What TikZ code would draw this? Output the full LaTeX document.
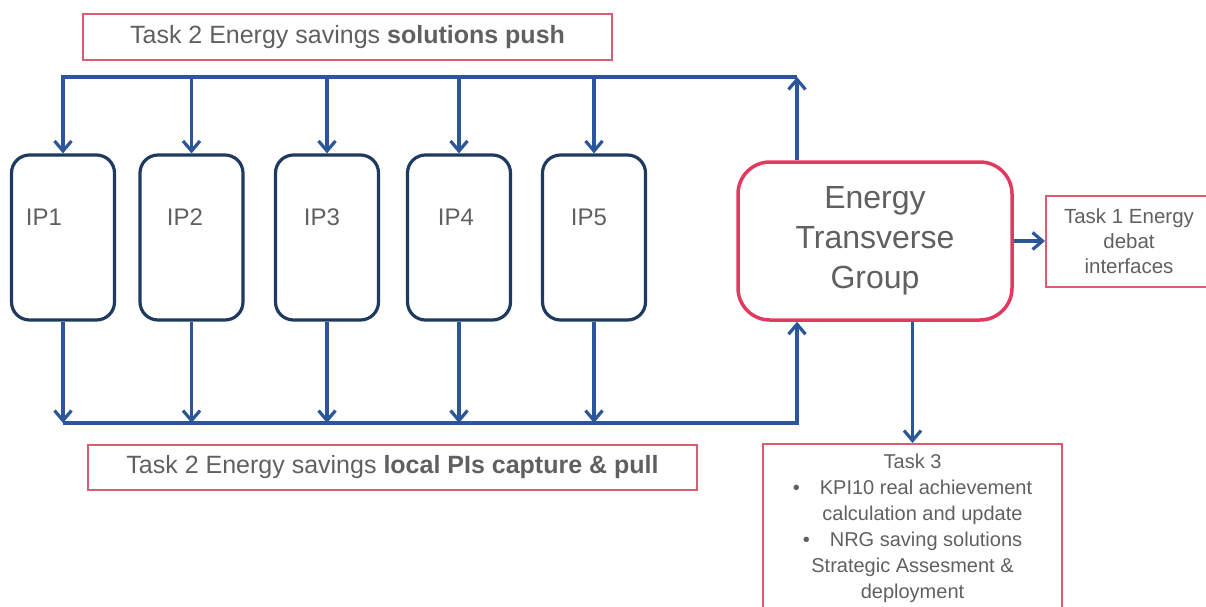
\documentclass[tikz,border=0pt]{standalone}
\usepackage{fontspec}
\setmainfont{Liberation Sans}
\usepackage{tikz}
\usetikzlibrary{arrows.meta,positioning,calc}
\definecolor{energyBlue}{HTML}{2B579A}
\definecolor{energyNavy}{HTML}{1F3A5F}
\definecolor{energyRed}{HTML}{E2395E}
\definecolor{energyPink}{HTML}{DC5A72}
\definecolor{energyGray}{HTML}{606060}
\tikzset{
  ipbox/.style={
    rectangle,
    rounded corners=18pt,
    draw=energyNavy,
    line width=3.2pt,
    minimum width=103pt,
    minimum height=165pt
  },
  iplabel/.style={
    text=energyGray,
    font=\fontsize{24}{28}\selectfont
  },
  groupbox/.style={
    rectangle,
    rounded corners=32pt,
    draw=energyRed,
    line width=3.5pt,
    minimum width=274pt,
    minimum height=158pt,
    align=center,
    text=energyGray,
    font=\fontsize{32}{40}\selectfont
  },
  taskbox/.style={
    rectangle,
    draw=energyPink,
    line width=2pt,
    align=center,
    text=energyGray
  },
  arrow/.style={
    -{Straight Barb[length=10pt,width=17pt]},
    line width=3.2pt,
    draw=energyBlue
  }
}
\begin{document}
\begin{tikzpicture}[x=1pt,y=-1pt]
  \useasboundingbox (0,0) rectangle (1206,607);
  \clip (0,0) rectangle (1206,607);
  % the five IP boxes
  \node[ipbox] (ip1) at (63,237.5) {};
  \node[ipbox] (ip2) at (191.5,237.5) {};
  \node[ipbox] (ip3) at (327,237.5) {};
  \node[ipbox] (ip4) at (459,237.5) {};
  \node[ipbox] (ip5) at (594,237.5) {};
  \node[iplabel] (ip1lbl) at (44,217) {IP1};
  \node[iplabel] (ip2lbl) at (185,217) {IP2};
  \node[iplabel] (ip3lbl) at (322,217) {IP3};
  \node[iplabel] (ip4lbl) at (456,217) {IP4};
  \node[iplabel] (ip5lbl) at (589,217) {IP5};
  % group and tasks
  \node[groupbox] (etg) at (875,241) {Energy\\Transverse\\Group};
  \node[taskbox,minimum width=529pt,minimum height=46pt,font=\fontsize{25}{30}\selectfont] (pushTask) at (347.5,37) {Task 2 Energy savings \textbf{solutions push}};
  \node[taskbox,minimum width=609pt,minimum height=45pt,font=\fontsize{25}{30}\selectfont] (pullTask) at (392.5,467.5) {Task 2 Energy savings \textbf{local PIs capture \& pull}};
  \node[taskbox,minimum width=166pt,minimum height=91pt,font=\fontsize{20.5}{25}\selectfont] (debatTask) at (1129,241) {Task 1 Energy\\debat\\interfaces};
  \node[taskbox,anchor=north,minimum width=299pt,inner ysep=10pt,font=\fontsize{20}{26}\selectfont] (kpiTask) at (912.5,443) {Task 3\\\textbullet\quad KPI10 real achievement\\\quad calculation and update\\\textbullet\quad NRG saving solutions\\Strategic Assesment \&\\deployment};
  % buses
  \coordinate (pushBus) at (797,77);
  \coordinate (pullBus) at (797,423);
  \draw[arrow] (etg.north -| pushBus) -- (pushBus);
  \draw[arrow] (pushBus) -- (ip1.north |- pushBus) -- (ip1.north);
  \draw[arrow] (ip2.north |- pushBus) -- (ip2.north);
  \draw[arrow] (ip3.north |- pushBus) -- (ip3.north);
  \draw[arrow] (ip4.north |- pushBus) -- (ip4.north);
  \draw[arrow] (ip5.north |- pushBus) -- (ip5.north);
  \draw[arrow] (ip1.south) -- (ip1.south |- pullBus);
  \draw[arrow] (ip2.south) -- (ip2.south |- pullBus);
  \draw[arrow] (ip3.south) -- (ip3.south |- pullBus);
  \draw[arrow] (ip4.south) -- (ip4.south |- pullBus);
  \draw[arrow] (ip5.south) -- (ip5.south |- pullBus);
  \draw[arrow] (ip1.south |- pullBus) -- (pullBus) -- (etg.south -| pullBus);
  \draw[arrow] (etg.east) -- (debatTask.west);
  \draw[arrow] (kpiTask.north |- etg.south) -- (kpiTask.north);
\end{tikzpicture}
\end{document}
